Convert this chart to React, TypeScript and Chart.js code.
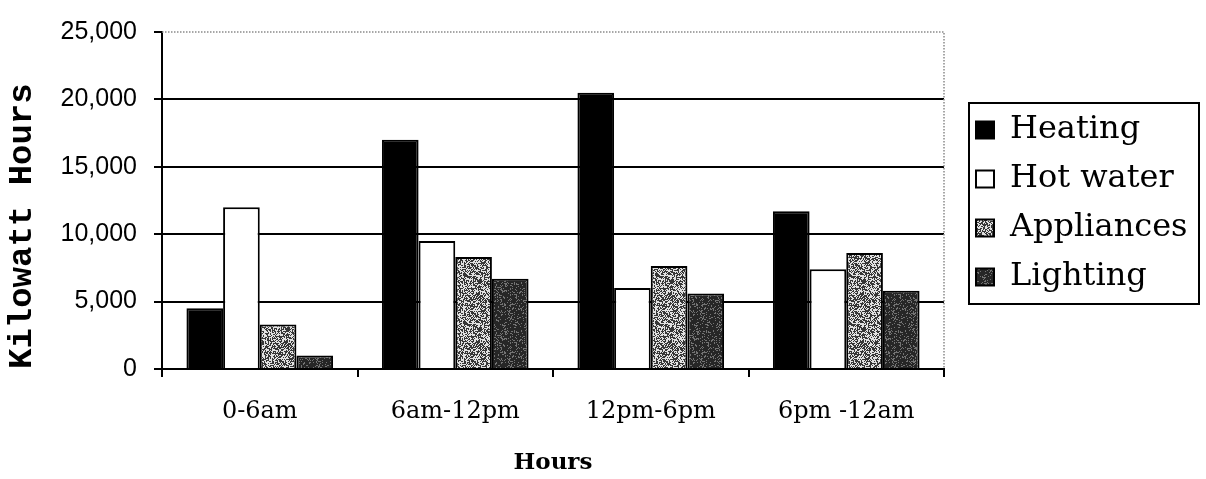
import { useEffect, useRef } from "react";
import { Chart, registerables } from "chart.js";

Chart.register(...registerables);

// values (kWh)
const PERIODS = ["0-6am", "6am-12pm", "12pm-6pm", "6pm -12am"];
const HEATING = [4500, 17000, 20500, 11700];
const HOT_WATER = [12000, 9500, 6000, 7400];
const APPLIANCES = [3300, 8300, 7650, 8600];
const LIGHTING = [1000, 6700, 5600, 5800];
const Y_TICKS = [0, 5000, 10000, 15000, 20000, 25000];

const SERIF = "'DejaVu Serif', serif";
const LEGEND_FRAME = { left: 969, top: 103, right: 1199, bottom: 304 };

// speckled grey fill like the scanned halftone
function speckle(dark: number, light: number, share: number, seed: number) {
  const size = 48;
  const c = document.createElement("canvas");
  c.width = c.height = size;
  const g = c.getContext("2d")!;
  const img = g.createImageData(size, size);
  let s = seed >>> 0;
  for (let i = 0; i < size * size; i++) {
    s = (Math.imul(s, 1103515245) + 12345) >>> 0;
    const v = (s >>> 16) / 65536 < share ? light : dark;
    img.data[i * 4] = img.data[i * 4 + 1] = img.data[i * 4 + 2] = v;
    img.data[i * 4 + 3] = 255;
  }
  g.putImageData(img, 0, 0);
  return g.createPattern(c, "repeat")!;
}

// dotted plot-area border (top and right)
const plotFrame = {
  id: "plotFrame",
  beforeDatasetsDraw(chart: any) {
    const { ctx, chartArea: a } = chart;
    ctx.save();
    ctx.strokeStyle = "#8a8a8a";
    ctx.lineWidth = 1.5;
    ctx.setLineDash([1.5, 1.5]);
    ctx.beginPath();
    ctx.moveTo(a.left, a.top);
    ctx.lineTo(a.right, a.top);
    ctx.lineTo(a.right, a.bottom);
    ctx.stroke();
    ctx.restore();
  },
};

// keep the legend slot fixed and put the boxed legend where the original has it
const legendPlacement = {
  id: "legendPlacement",
  beforeLayout(chart: any) {
    const lg = chart.legend;
    if (lg && !lg._fixedFit) {
      const fit = lg.fit.bind(lg);
      lg.fit = () => { fit(); lg.width = 262; };
      lg._fixedFit = true;
    }
  },
  afterLayout(chart: any) {
    const lg = chart.legend;
    if (!lg) return;
    // symmetric slack keeps the centred column where the frame is, and stops it wrapping
    lg.left = LEGEND_FRAME.left - 10;
    lg.right = LEGEND_FRAME.right;
    lg.top = LEGEND_FRAME.top - 40;
    lg.bottom = LEGEND_FRAME.bottom + 40;
    lg.width = lg.right - lg.left;
    lg.height = lg.bottom - lg.top;
  },
  afterDraw(chart: any) {
    const ctx = chart.ctx;
    ctx.save();
    ctx.strokeStyle = "#000";
    ctx.lineWidth = 2;
    ctx.strokeRect(LEGEND_FRAME.left, LEGEND_FRAME.top,
      LEGEND_FRAME.right - LEGEND_FRAME.left, LEGEND_FRAME.bottom - LEGEND_FRAME.top);
    ctx.restore();
  },
};

export default function App() {
  const canvasRef = useRef<HTMLCanvasElement | null>(null);

  useEffect(() => {
    document.body.style.margin = "0";
    if (!canvasRef.current) return;
    const chart = new Chart(canvasRef.current, {
      type: "bar",
      data: {
        labels: PERIODS,
        datasets: [
          { label: "Heating", data: HEATING, backgroundColor: "#000" },
          { label: "Hot water", data: HOT_WATER, backgroundColor: "#fff" },
          { label: "Appliances", data: APPLIANCES, backgroundColor: speckle(55, 225, 0.5, 7) },
          { label: "Lighting", data: LIGHTING, backgroundColor: speckle(38, 115, 0.22, 91) },
        ],
      },
      options: {
        animation: false,
        responsive: true,
        maintainAspectRatio: false,
        layout: { padding: { top: 26, left: 0, right: 0, bottom: 0 } },
        datasets: {
          bar: { categoryPercentage: 0.75, barPercentage: 1, borderWidth: 2, borderColor: "#000" },
        },
        plugins: {
          tooltip: { enabled: false },
          legend: {
            position: "right",
            labels: {
              boxWidth: 18,
              boxHeight: 17,
              padding: 17,
              color: "#000",
              font: { family: SERIF, size: 32 },
            },
          },
        },
        scales: {
          x: {
            grid: { offset: true, drawOnChartArea: false, drawTicks: true, tickLength: 8, color: "#000", lineWidth: 2 },
            border: { color: "#000", width: 2 },
            ticks: { padding: 20, color: "#000", font: { family: SERIF, size: 24 } },
            title: {
              display: true,
              text: "Hours",
              color: "#000",
              font: { family: SERIF, size: 23, weight: "bold" },
              padding: { top: 0, bottom: 2 },
            },
            afterFit: (s: any) => { s.height = 110; },
          },
          y: {
            min: Y_TICKS[0],
            max: Y_TICKS[Y_TICKS.length - 1],
            ticks: {
              stepSize: Y_TICKS[1] - Y_TICKS[0],
              padding: 17,
              color: "#000",
              font: { family: "'Liberation Sans', Arial, sans-serif", size: 25 },
              callback: (v: any) => Number(v).toLocaleString("en-US"),
            },
            grid: {
              color: (c: any) => (c.tick && c.tick.value === Y_TICKS[Y_TICKS.length - 1] ? "rgba(0,0,0,0)" : "#000"),
              tickColor: "#000",
              lineWidth: 2,
              tickLength: 8,
            },
            border: { color: "#000", width: 2 },
            title: {
              display: true,
              text: "Kilowatt Hours",
              align: "start",
              color: "#000",
              font: { family: "'Liberation Mono', 'DejaVu Sans Mono', monospace", size: 34, weight: "bold" },
              padding: { top: 2, bottom: 0 },
            },
            afterFit: (s: any) => { s.width = 162; },
          },
        },
      },
      plugins: [plotFrame, legendPlacement],
    } as any);
    return () => chart.destroy();
  }, []);

  return (
    <div style={{ width: 1206, height: 479, position: "relative", background: "#fff" }}>
      <canvas ref={canvasRef} />
    </div>
  );
}
